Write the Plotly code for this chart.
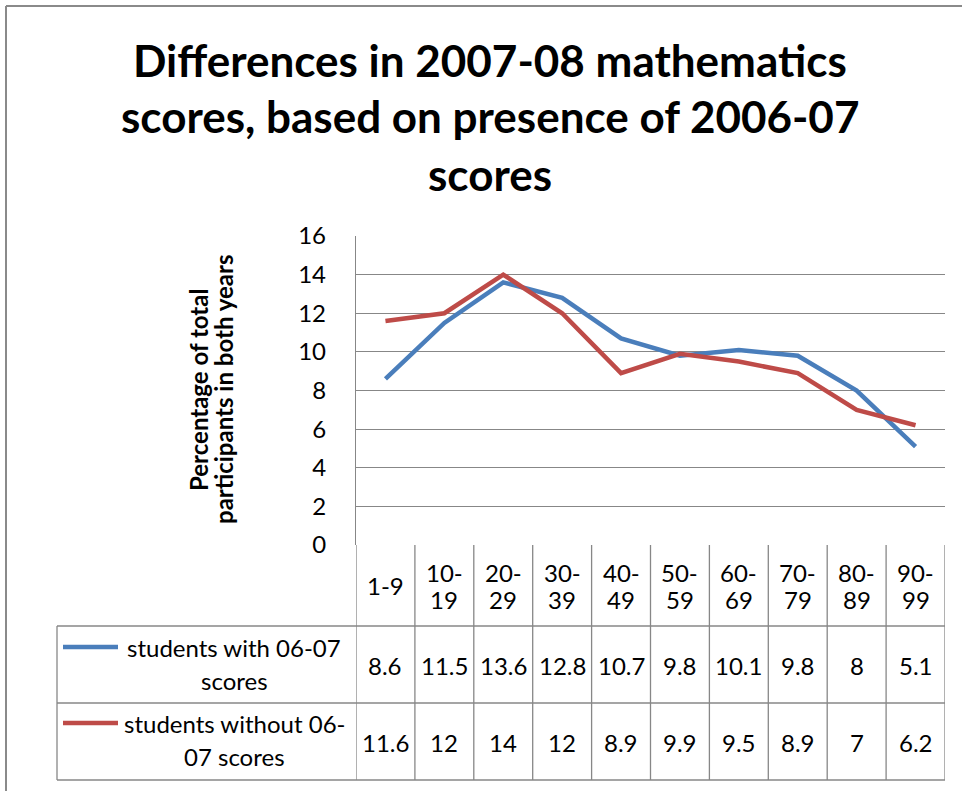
import plotly.graph_objects as go

# ---------------- data ----------------
categories = ["1-9", "10-19", "20-29", "30-39", "40-49", "50-59", "60-69", "70-79", "80-89", "90-99"]
with_scores = [8.6, 11.5, 13.6, 12.8, 10.7, 9.8, 10.1, 9.8, 8, 5.1]
without_scores = [11.6, 12, 14, 12, 8.9, 9.9, 9.5, 8.9, 7, 6.2]
series_name_lines = [["students with 06-07", "scores"],
                     ["students without 06-", "07 scores"]]
title_lines = ["Differences in 2007-08 mathematics",
               "scores, based on presence of 2006-07",
               "scores"]
y_title_lines = ["Percentage of total", "participants in both years"]
y_ticks = [0, 2, 4, 6, 8, 10, 12, 14, 16]

# ---------------- layout helpers ----------------
W, H = 962, 791
def px(x):
    return x / W
def py(y):
    return 1 - y / H

BLUE = "#4A7EBB"
RED = "#BE4B48"
GRID = "#878787"
FONT = "Lato, Open Sans, sans-serif"
TXT = "#000000"
FS = 24

x_idx = list(range(len(categories)))

fig = go.Figure()
fig.add_trace(go.Scatter(x=x_idx, y=with_scores, mode="lines",
                         line=dict(color=BLUE, width=4.5), name="with", showlegend=False,
                         hoverinfo="skip"))
fig.add_trace(go.Scatter(x=x_idx, y=without_scores, mode="lines",
                         line=dict(color=RED, width=4.5), name="without", showlegend=False,
                         hoverinfo="skip"))

PLOT_L, PLOT_R, PLOT_T, PLOT_B = 356, 945, 236, 545
HEAD_B, ROW1_B, ROW2_B = 626, 703, 780
TABLE_L = 57

shapes = []
for yy in (HEAD_B, ROW1_B, ROW2_B):
    shapes.append(dict(type="line", xref="paper", yref="paper", x0=px(TABLE_L), x1=px(PLOT_R),
                       y0=py(yy), y1=py(yy), line=dict(color=GRID, width=1.3)))
shapes.append(dict(type="line", xref="paper", yref="paper", x0=px(TABLE_L), x1=px(TABLE_L),
                   y0=py(HEAD_B), y1=py(ROW2_B), line=dict(color=GRID, width=1.3)))
for i in range(len(categories) + 1):
    shapes.append(dict(type="line", xref="x", yref="paper", x0=i - 0.5, x1=i - 0.5,
                       y0=py(PLOT_B), y1=py(ROW2_B), line=dict(color=GRID, width=1.3)))
for yy, col in ((647, BLUE), (723, RED)):
    shapes.append(dict(type="line", xref="paper", yref="paper", x0=px(63), x1=px(118),
                       y0=py(yy), y1=py(yy), line=dict(color=col, width=4.5)))
shapes.append(dict(type="line", xref="paper", yref="paper", x0=px(6), x1=px(6),
                   y0=py(6), y1=0, line=dict(color="#8A8A8A", width=2)))
shapes.append(dict(type="line", xref="paper", yref="paper", x0=px(6), x1=1,
                   y0=py(6), y1=py(6), line=dict(color="#8A8A8A", width=2)))

def txt(text, x, y, size=FS, bold=False, xref="paper", angle=0):
    return dict(text=("<b>" + text + "</b>") if bold else text, xref=xref, yref="paper",
                x=x, y=y, showarrow=False, xanchor="center", yanchor="middle",
                textangle=angle, font=dict(family=FONT, size=size, color=TXT))

annotations = []
for line, yy in zip(title_lines, (60, 116, 174)):
    annotations.append(txt(line, px(490), py(yy), size=44, bold=True))
for line, xx in zip(y_title_lines, (198, 223)):
    annotations.append(txt(line, px(xx), py(390), size=24, bold=True, angle=-90))

# header row: Excel wraps each category after its hyphen
for i, cat in enumerate(categories):
    lo, hi = cat.split("-")
    if len(cat) <= 3:
        annotations.append(txt(cat, i, py(585), xref="x"))
    else:
        annotations.append(txt(lo + "-", i, py(572), xref="x"))
        annotations.append(txt(hi, i, py(599), xref="x"))

for row_vals, yy in ((with_scores, 665), (without_scores, 742)):
    for i, v in enumerate(row_vals):
        annotations.append(txt(f"{v:g}", i, py(yy), xref="x"))

for lines, yy in zip(series_name_lines, (647, 723)):
    annotations.append(txt(lines[0], px(234), py(yy)))
    annotations.append(txt(lines[1], px(234), py(yy + 33)))

fig.update_layout(
    width=W, height=H,
    margin=dict(l=0, r=0, t=0, b=0, autoexpand=False),
    paper_bgcolor="white", plot_bgcolor="white",
    showlegend=False,
    shapes=shapes,
    annotations=annotations,
    xaxis=dict(domain=[px(PLOT_L), px(PLOT_R)], range=[-0.5, len(categories) - 0.5],
               showticklabels=False, showgrid=False, zeroline=False, showline=False,
               automargin=False, fixedrange=True),
    yaxis=dict(domain=[py(PLOT_B), py(PLOT_T)], range=[0, 16], tickvals=y_ticks,
               showgrid=True, gridcolor=GRID, gridwidth=1.3, zeroline=False,
               showline=True, linecolor=GRID, linewidth=1.3,
               ticks="", ticklabelstandoff=24, automargin=False,
               tickfont=dict(family=FONT, size=FS, color=TXT), fixedrange=True),
)

fig.write_html("out.html", post_script="document.body.style.margin='0';",
               config={"displayModeBar": False})
